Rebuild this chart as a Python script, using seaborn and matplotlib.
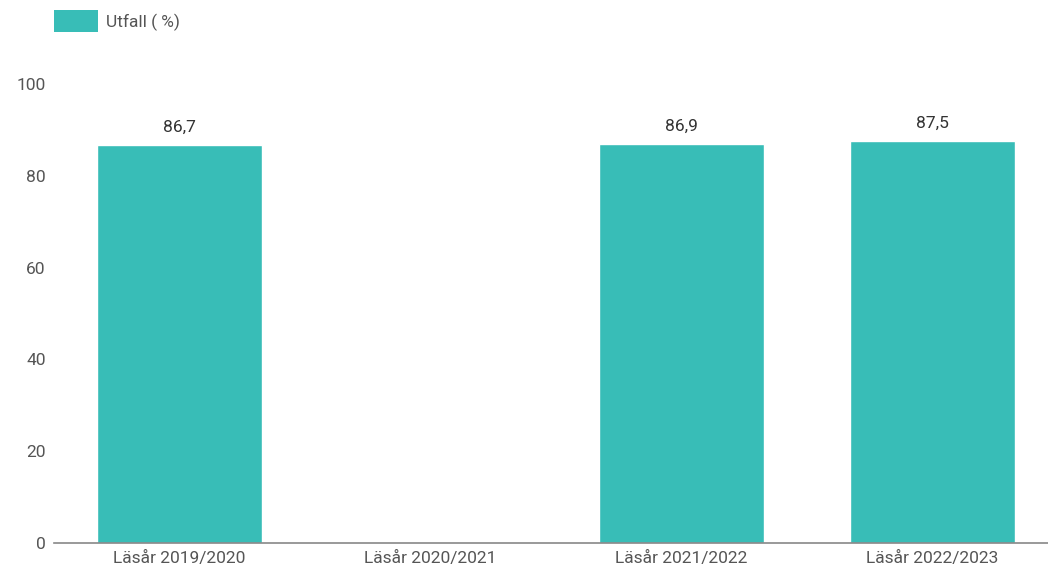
import numpy as np
import pandas as pd
import matplotlib
matplotlib.use('Agg')
import matplotlib.pyplot as plt
import seaborn as sns
from matplotlib.patches import Patch

# Data
categories = ['Läsår 2019/2020', 'Läsår 2020/2021', 'Läsår 2021/2022', 'Läsår 2022/2023']
values = [86.7, np.nan, 86.9, 87.5]
value_labels = ['86,7', '', '86,9', '87,5']
legend_label = 'Utfall ( %)'

df = pd.DataFrame({'kategori': categories, 'utfall': values})

sns.set_style('white')
plt.rcParams['font.family'] = ['Roboto', 'DejaVu Sans']

color = '#38bdb7'
text_color = '#555555'
fs = 12.5

fig = plt.figure(figsize=(10.48, 5.69), dpi=100)
ax = fig.add_axes([54 / 1048, 1 - 543 / 569, 1004 / 1048, (543 - 84) / 569])

sns.barplot(data=df, x='kategori', y='utfall', color=color, saturation=1,
            width=0.66, ax=ax)

for i, (v, lab) in enumerate(zip(values, value_labels)):
    if not np.isnan(v):
        ax.text(i, v + 2.2, lab, ha='center', va='bottom', fontsize=fs, color='#333333')

ax.set_xlim(-0.5, 3.5)
ax.set_ylim(0, 100)
ax.set_yticks([0, 20, 40, 60, 80, 100])
ax.set_xlabel('')
ax.set_ylabel('')
for s in ['top', 'right', 'left']:
    ax.spines[s].set_visible(False)
ax.spines['bottom'].set_color('#888888')
ax.spines['bottom'].set_linewidth(1.2)
ax.tick_params(axis='x', length=0, labelsize=fs, labelcolor=text_color, pad=6)
ax.tick_params(axis='y', length=4, width=1, color='#bbbbbb', labelsize=fs,
               labelcolor=text_color, pad=2)
ax.grid(False)

handles = [Patch(facecolor=color, edgecolor='none')]
fig.legend(handles, [legend_label], loc='upper left', bbox_to_anchor=(44 / 1048, 1.0),
           frameon=False, handlelength=2.5, handleheight=1.55, handletextpad=0.5,
           fontsize=fs, labelcolor=text_color, borderaxespad=0.2)

fig.savefig('out.png', dpi=100)
